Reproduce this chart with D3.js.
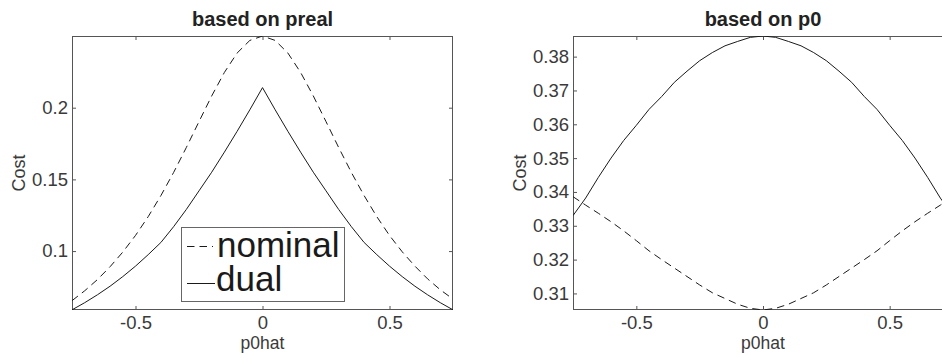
<!DOCTYPE html>
<html>
<head>
<meta charset="utf-8">
<script src="https://cdn.jsdelivr.net/npm/d3@7"></script>
<style>
  html, body { margin: 0; padding: 0; background: #fff; }
  svg { display: block; }
  text { font-family: "Liberation Sans", Arial, Helvetica, sans-serif; }
</style>
</head>
<body>
<svg id="chart" width="942" height="353"></svg>
<script>
// ---- data ----
const p0hat = [-0.75,-0.70,-0.65,-0.60,-0.55,-0.50,-0.45,-0.40,-0.35,-0.30,-0.25,-0.20,-0.15,-0.10,-0.05,0,
               0.05,0.10,0.15,0.20,0.25,0.30,0.35,0.40,0.45,0.50,0.55,0.60,0.65,0.70,0.75];

// panel 1: based on preal
const prealNominal = [0.0654,0.0723,0.0801,0.0891,0.0993,0.1109,0.1240,0.1387,0.1548,0.1722,0.1903,0.2082,0.2246,0.2381,0.2469,0.2500,
                      0.2469,0.2381,0.2246,0.2082,0.1903,0.1722,0.1548,0.1387,0.1240,0.1109,0.0995,0.0895,0.0806,0.0730,0.0665];
const prealDual    = [0.0590,0.0640,0.0695,0.0755,0.0822,0.0895,0.0975,0.1060,0.1170,0.1290,0.1420,0.1550,0.1690,0.1835,0.1985,0.2140,
                      0.1985,0.1835,0.1690,0.1550,0.1420,0.1290,0.1170,0.1060,0.0975,0.0895,0.0822,0.0755,0.0695,0.0640,0.0590];

// panel 2: based on p0
const p0Nominal = [0.3386,0.3361,0.3337,0.3312,0.3285,0.3256,0.3226,0.3200,0.3175,0.3150,0.3125,0.3102,0.3085,0.3068,0.3056,0.3051,
                   0.3056,0.3068,0.3085,0.3102,0.3125,0.3150,0.3175,0.3200,0.3226,0.3256,0.3285,0.3312,0.3337,0.3361,0.3386];
const p0Dual    = [0.3330,0.3382,0.3443,0.3500,0.3552,0.3597,0.3644,0.3682,0.3724,0.3757,0.3788,0.3812,0.3832,0.3845,0.3857,0.3861,
                   0.3857,0.3845,0.3832,0.3812,0.3788,0.3757,0.3724,0.3682,0.3644,0.3597,0.3552,0.3500,0.3443,0.3382,0.3330];

const xTicks = [-0.5, 0, 0.5];
const xTickLabels = ["-0.5", "0", "0.5"];
const yTicks1 = [0.1, 0.15, 0.2];
const yTickLabels1 = ["0.1", "0.15", "0.2"];
const yTicks2 = [0.31, 0.32, 0.33, 0.34, 0.35, 0.36, 0.37, 0.38];
const yTickLabels2 = ["0.31", "0.32", "0.33", "0.34", "0.35", "0.36", "0.37", "0.38"];
const titles = ["based on preal", "based on p0"];
const xLabel = "p0hat";
const yLabel = "Cost";
const legendLabels = ["nominal", "dual"];

// ---- drawing ----
const svg = d3.select("#chart");
const AX = "#555", TXT = "#3a3a3a", LINE = "#1a1a1a";
const DASH = "7.5,5";
const plotTop = 36, plotBottom = 310;

function panel(idx, left, right, yDomain, yTicks, yTickLabels, nominal, dual, ylabX) {
  const g = svg.append("g");
  const x = d3.scaleLinear().domain([-0.75, 0.75]).range([left, right]);
  const y = d3.scaleLinear().domain(yDomain).range([plotBottom, plotTop]);
  const clipId = "clip" + idx;
  svg.append("clipPath").attr("id", clipId).append("rect")
    .attr("x", left).attr("y", plotTop).attr("width", right - left).attr("height", plotBottom - plotTop);

  const fmtX = (d) => xTickLabels[xTicks.indexOf(d)];
  const fmtY = (d) => yTickLabels[yTicks.indexOf(d)];
  const axB = g.append("g").attr("transform", `translate(0,${plotBottom})`)
    .call(d3.axisBottom(x).tickValues(xTicks).tickFormat(fmtX).tickSize(-4).tickPadding(6));
  const axT = g.append("g").attr("transform", `translate(0,${plotTop})`)
    .call(d3.axisTop(x).tickValues(xTicks).tickFormat("").tickSize(-4));
  const axL = g.append("g").attr("transform", `translate(${left},0)`)
    .call(d3.axisLeft(y).tickValues(yTicks).tickFormat(fmtY).tickSize(-4).tickPadding(4));
  const axR = g.append("g").attr("transform", `translate(${right},0)`)
    .call(d3.axisRight(y).tickValues(yTicks).tickFormat("").tickSize(-4));
  [axB, axT, axL, axR].forEach(a => {
    a.select(".domain").remove();
    a.selectAll(".tick line").attr("stroke", AX);
    a.selectAll(".tick text").attr("fill", TXT).style("font-size", "18.5px")
      .style("font-family", '"Liberation Sans", Arial, Helvetica, sans-serif');
  });

  g.append("rect").attr("x", left + 0.5).attr("y", plotTop + 0.5)
    .attr("width", right - left - 1).attr("height", plotBottom - plotTop - 1)
    .attr("fill", "none").attr("stroke", AX).attr("stroke-width", 1);

  const line = d3.line().x((d, i) => x(p0hat[i])).y(d => y(d));
  const cg = g.append("g").attr("clip-path", `url(#${clipId})`);
  cg.append("path").datum(nominal).attr("d", line).attr("fill", "none")
    .attr("stroke", LINE).attr("stroke-width", 1).attr("stroke-dasharray", DASH);
  cg.append("path").datum(dual).attr("d", line).attr("fill", "none")
    .attr("stroke", LINE).attr("stroke-width", 1);

  g.append("text").attr("x", x(0)).attr("y", 26).attr("text-anchor", "middle")
    .style("font-size", "20px").style("font-weight", "bold").attr("fill", "#222")
    .text(titles[idx]);
  g.append("text").attr("x", x(0)).attr("y", 348.5).attr("text-anchor", "middle")
    .style("font-size", "17.5px").attr("fill", TXT).text(xLabel);
  g.append("text").attr("transform", `translate(${ylabX},${(plotTop + plotBottom) / 2}) rotate(-90)`)
    .attr("text-anchor", "middle").style("font-size", "18px").attr("fill", TXT).text(yLabel);
  return { x, y, g };
}

const p1 = panel(0, 72, 453, [0.0589, 0.25], yTicks1, yTickLabels1, prealNominal, prealDual, 25);
const p2 = panel(1, 573, 953, [0.3051, 0.3861], yTicks2, yTickLabels2, p0Nominal, p0Dual, 526);

// legend in panel 1
const lg = svg.append("g");
lg.append("rect").attr("x", 181.5).attr("y", 227.5).attr("width", 163).attr("height", 74)
  .attr("fill", "#fff").attr("stroke", "#666").attr("stroke-width", 1);
lg.append("line").attr("x1", 187).attr("x2", 213).attr("y1", 246.5).attr("y2", 246.5)
  .attr("stroke", LINE).attr("stroke-width", 1).attr("stroke-dasharray", DASH);
lg.append("line").attr("x1", 187).attr("x2", 215).attr("y1", 283.5).attr("y2", 283.5)
  .attr("stroke", LINE).attr("stroke-width", 1);
lg.append("text").attr("x", 217).attr("y", 257).style("font-size", "35px").attr("fill", "#1a1a1a").text(legendLabels[0]);
lg.append("text").attr("x", 216).attr("y", 291).style("font-size", "35px").attr("fill", "#1a1a1a").text(legendLabels[1]);
</script>
</body>
</html>
